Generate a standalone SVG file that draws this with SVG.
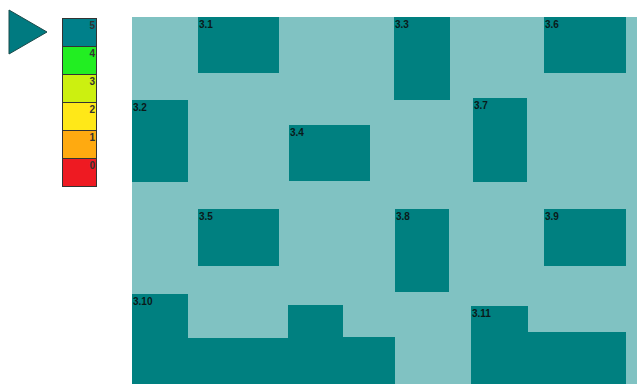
<svg xmlns="http://www.w3.org/2000/svg" width="637" height="384" viewBox="0 0 637 384">
<style>
.room{fill:#008080;}
.lbl{font-family:"Liberation Sans",Arial,sans-serif;font-size:10px;font-weight:bold;fill:#0a1a1a;}
.lg{font-family:"Liberation Sans",Arial,sans-serif;font-size:10px;font-weight:bold;fill:#333;text-anchor:end;}
.cell{stroke:#333;stroke-width:1;}
</style>
<rect x="0" y="0" width="637" height="384" fill="#ffffff"/>
<rect id="floor" x="132" y="17" width="505" height="367" fill="#80c2c2"/>
<g id="legend">
<polygon points="9,10 47,32 9,54" fill="#007a80" stroke="#1a4a4a" stroke-width="1"/>
<rect class="cell" x="62.5" y="18.5" width="34" height="28" fill="#00808a"/>
<rect class="cell" x="62.5" y="46.5" width="34" height="28" fill="#22ee22"/>
<rect class="cell" x="62.5" y="74.5" width="34" height="28" fill="#ccf010"/>
<rect class="cell" x="62.5" y="102.5" width="34" height="28" fill="#ffe818"/>
<rect class="cell" x="62.5" y="130.5" width="34" height="28" fill="#ffaa10"/>
<rect class="cell" x="62.5" y="158.5" width="34" height="28" fill="#ee1a22"/>
<text class="lg" x="95" y="29">5</text>
<text class="lg" x="95" y="57">4</text>
<text class="lg" x="95" y="85">3</text>
<text class="lg" x="95" y="113">2</text>
<text class="lg" x="95" y="141">1</text>
<text class="lg" x="95" y="169">0</text>
</g>
<g id="connectors"></g>
<g id="n3.1"><rect class="room" x="198" y="17" width="81" height="56"/><text class="lbl" x="199" y="28">3.1</text></g>
<g id="n3.2"><rect class="room" x="132" y="100" width="56" height="82"/><text class="lbl" x="133" y="111">3.2</text></g>
<g id="n3.3"><rect class="room" x="394" y="17" width="56" height="83"/><text class="lbl" x="395" y="28">3.3</text></g>
<g id="n3.4"><rect class="room" x="289" y="125" width="81" height="56"/><text class="lbl" x="290" y="136">3.4</text></g>
<g id="n3.5"><rect class="room" x="198" y="209" width="81" height="57"/><text class="lbl" x="199" y="220">3.5</text></g>
<g id="n3.6"><rect class="room" x="544" y="17" width="82" height="56"/><text class="lbl" x="545" y="28">3.6</text></g>
<g id="n3.7"><rect class="room" x="473" y="98" width="54" height="84"/><text class="lbl" x="474" y="109">3.7</text></g>
<g id="n3.8"><rect class="room" x="395" y="209" width="54" height="83"/><text class="lbl" x="396" y="220">3.8</text></g>
<g id="n3.9"><rect class="room" x="544" y="209" width="82" height="57"/><text class="lbl" x="545" y="220">3.9</text></g>
<g id="n3.10"><polygon class="room" points="132,294 188,294 188,338 288,338 288,305 343,305 343,337 395,337 395,384 132,384"/><text class="lbl" x="133" y="305">3.10</text></g>
<g id="n3.11"><polygon class="room" points="471,306 528,306 528,332 626,332 626,384 471,384"/><text class="lbl" x="472" y="317">3.11</text></g>
</svg>
